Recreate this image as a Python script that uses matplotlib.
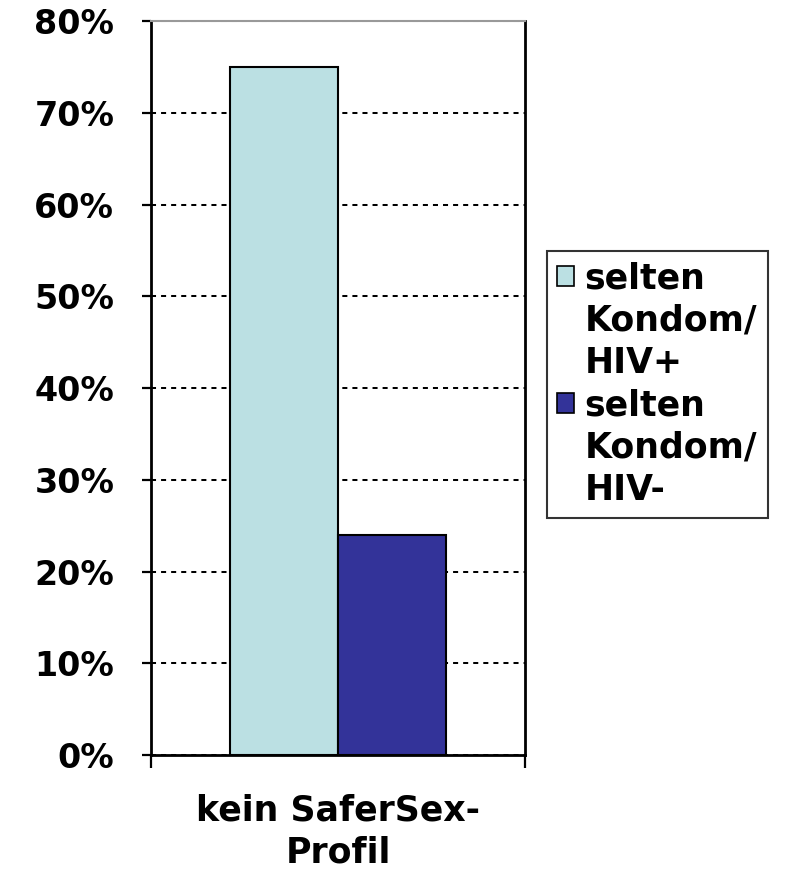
import matplotlib
matplotlib.use("Agg")
import matplotlib.pyplot as plt
from matplotlib.ticker import FuncFormatter
from matplotlib.patches import Rectangle

categories = ["kein SaferSex-\nProfil"]
series_names = ["selten\nKondom/\nHIV+", "selten\nKondom/\nHIV-"]
series_values = [[75], [24]]
colors = ["#BBE0E3", "#333399"]
yticks = [0, 10, 20, 30, 40, 50, 60, 70, 80]

plt.rcParams['font.family'] = ['DejaVu Sans']
plt.rcParams['font.weight'] = 'bold'

fig = plt.figure(figsize=(7.89, 8.71), dpi=100)
ax = fig.add_axes([151/789, 1-755/871, (525-151)/789, (755-21)/871])

offsets = [-0.144, 0.144]
width = 0.288
bars = []
for i, (name, vals) in enumerate(zip(series_names, series_values)):
    b = ax.bar([offsets[i]], vals, width=width, color=colors[i], edgecolor='black',
               linewidth=1.5, label=name, zorder=3)
    bars.append(b)

ax.set_xlim(-0.5, 0.5)
ax.set_ylim(0, 80)
ax.set_yticks(yticks)
ax.yaxis.set_major_formatter(FuncFormatter(lambda v, p: f"{int(v)}%"))
ax.set_xticks([-0.5, 0.5])
ax.set_xticklabels([])
ax.tick_params(axis='x', direction='out', length=9.5, width=1.6)
ax.tick_params(axis='y', direction='out', length=6.5, width=1.6, labelsize=24, pad=20)
for lab in ax.get_yticklabels():
    lab.set_fontweight('bold')

ax.grid(axis='y', linestyle=(0, (2.5, 2.5)), color='black', linewidth=1.45, zorder=0)
ax.text(0.5, -0.052, categories[0], transform=ax.transAxes, ha='center', va='top',
        fontsize=25, fontweight='bold', linespacing=1.32)

for s in ['left', 'right', 'bottom']:
    ax.spines[s].set_linewidth(2)
    ax.spines[s].set_color('black')
ax.spines['top'].set_color('#999999')
ax.spines['top'].set_linewidth(1.5)

# legend: one row per text line, swatch aligned with the first line of each entry
blank = Rectangle((0, 0), 1, 1, fill=False, edgecolor='none', linewidth=0)
leg_handles, leg_labels = [], []
for b, name in zip(bars, series_names):
    lines = name.split("\n")
    for j, line in enumerate(lines):
        leg_handles.append(b[0] if j == 0 else blank)
        leg_labels.append(line)

leg = fig.legend(handles=leg_handles, labels=leg_labels, loc='upper left',
                 bbox_to_anchor=(547/789, 1-251/871), frameon=True, fancybox=False,
                 prop={'size': 25, 'weight': 'bold'}, handlelength=0.48, handleheight=0.48,
                 handletextpad=0.3, borderpad=0.3, labelspacing=0.24, borderaxespad=0)
leg.get_frame().set_edgecolor('black')
leg.get_frame().set_linewidth(1.5)
for h in leg.legend_handles:
    h.set_linewidth(1.2)

fig.savefig("out.png", dpi=100)
